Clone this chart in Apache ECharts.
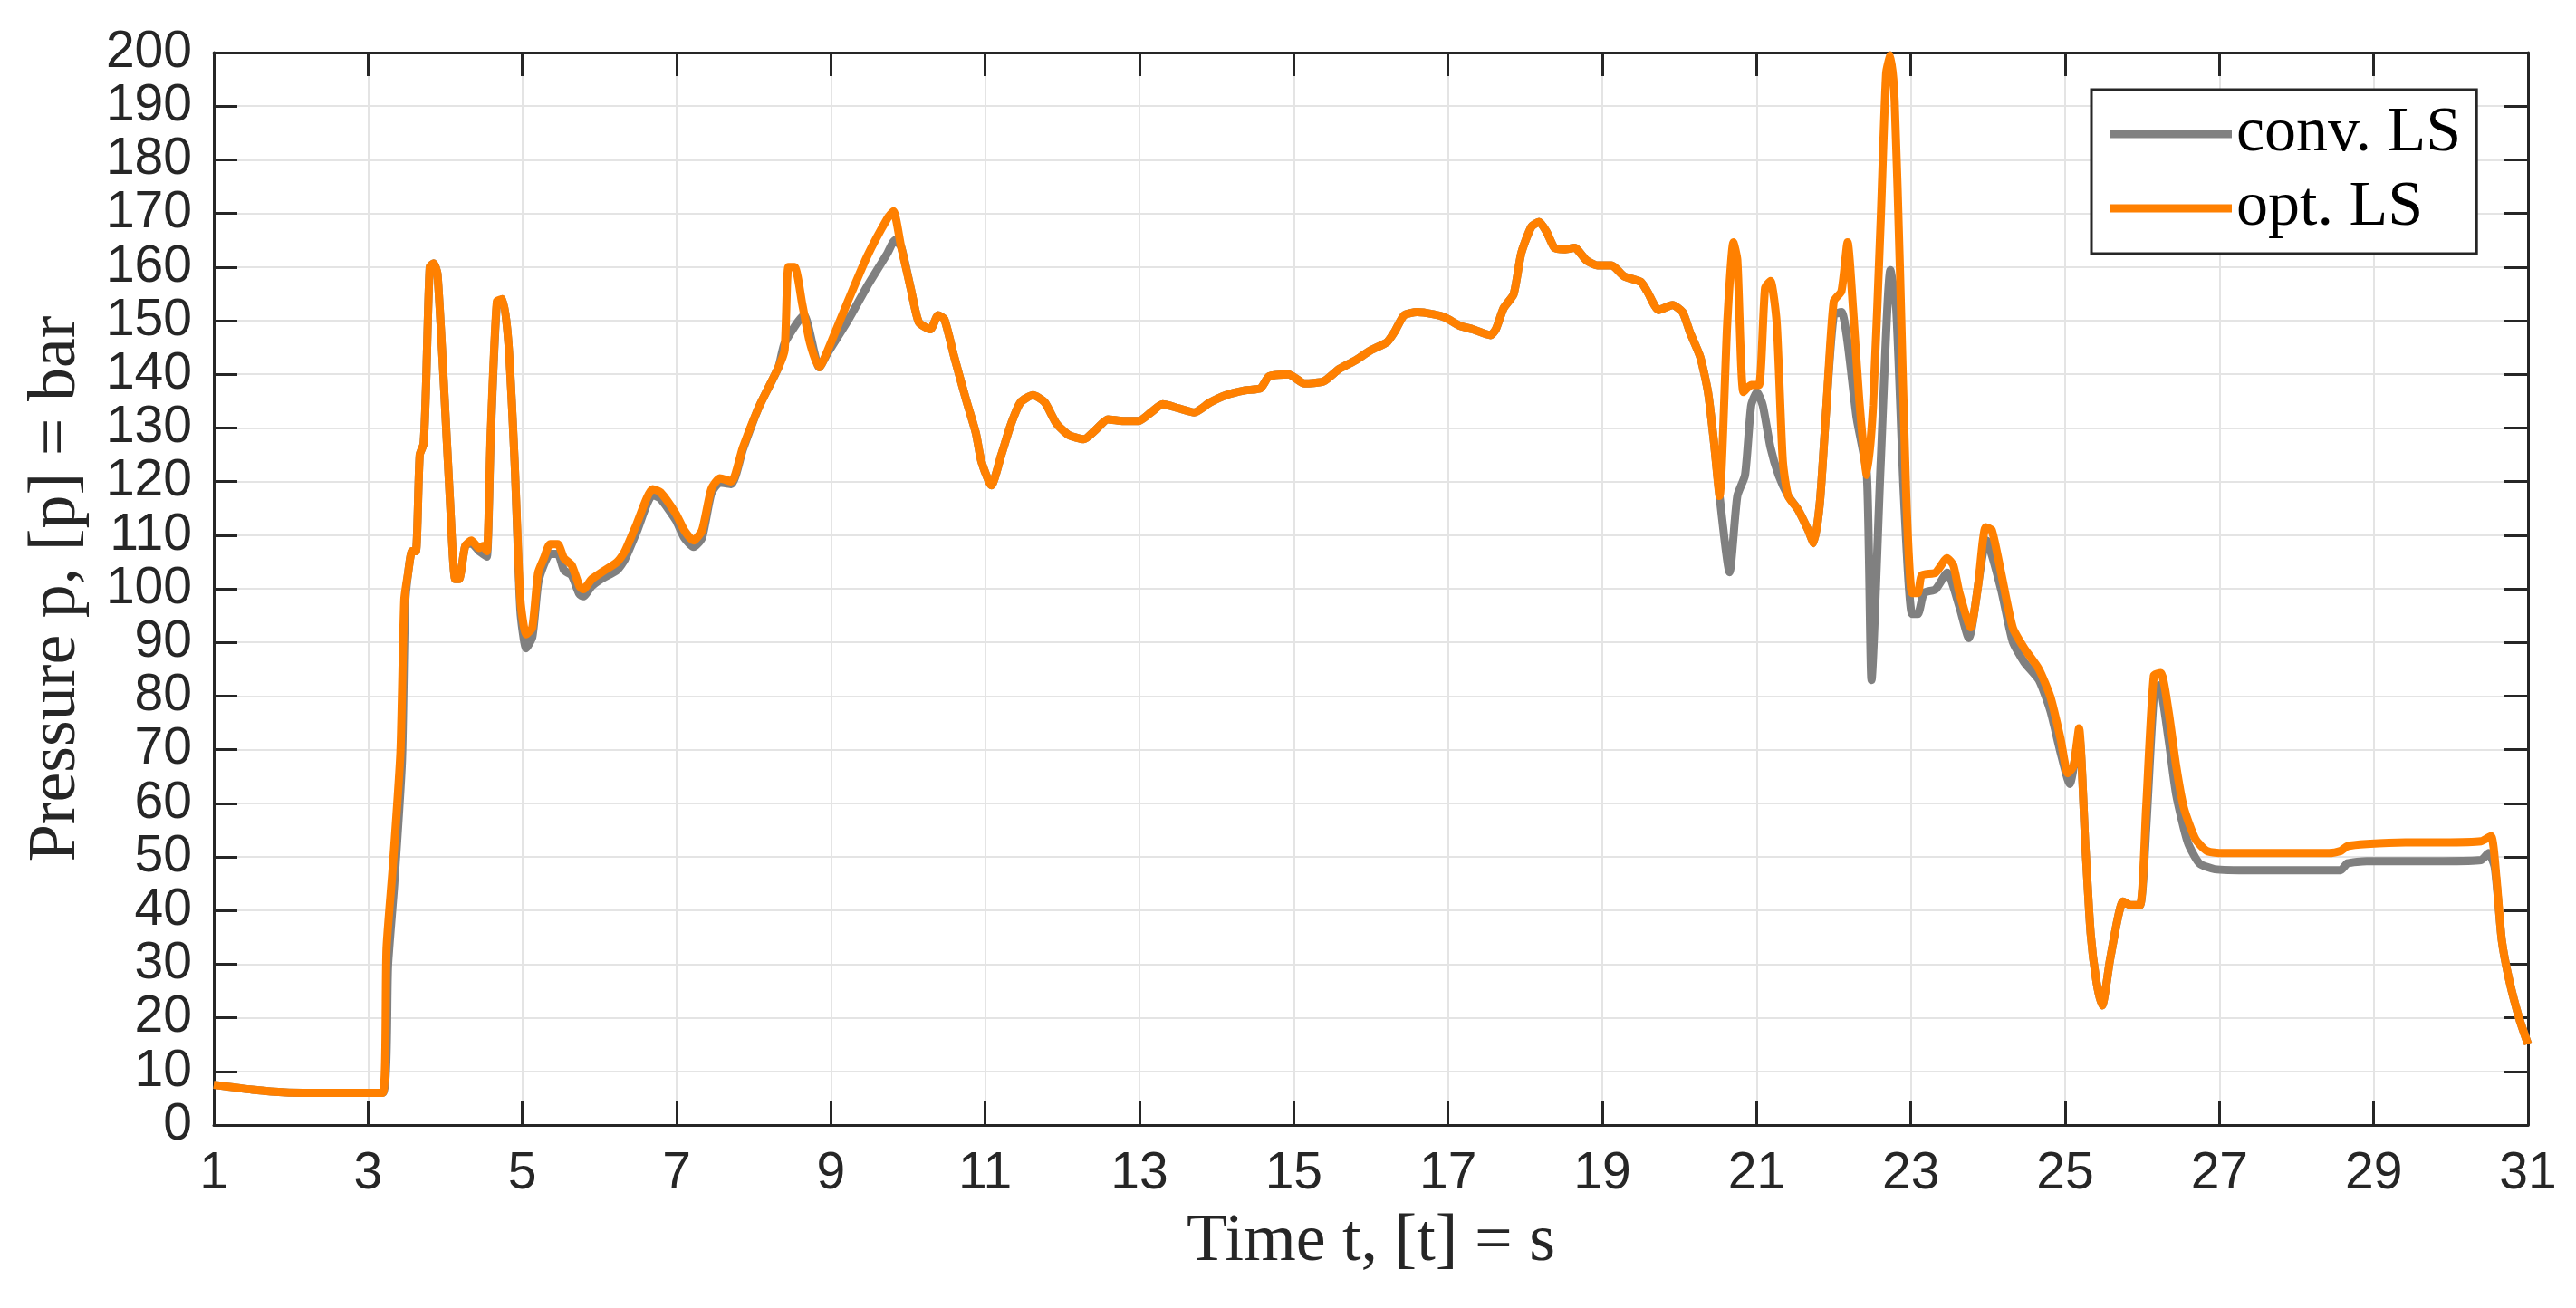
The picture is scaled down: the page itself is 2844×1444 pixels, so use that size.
<!DOCTYPE html>
<html>
<head>
<meta charset="utf-8">
<script src="https://cdn.jsdelivr.net/npm/echarts@6/dist/echarts.min.js"></script>
<style>
html,body{margin:0;padding:0;background:#fff;}
#chart{width:2844px;height:1444px;}
</style>
</head>
<body>
<div id="chart"></div>
<script>
// ---- data ----
const seriesNames = ['conv. LS', 'opt. LS'];
const xTicks = { min: 1, max: 31, step: 2 };
const yTicks = { min: 0, max: 200, step: 10 };

const timeOpt = [1.0,1.5,1.93,2.5,3.19,3.24,3.32,3.42,3.47,3.52,3.57,3.62,3.67,3.72,3.75,3.80,3.85,3.90,3.98,4.06,4.13,4.18,4.26,4.34,4.44,4.49,4.54,4.59,4.67,4.745,4.82,4.90,4.975,5.05,5.13,5.205,5.28,5.36,5.46,5.54,5.64,5.74,5.79,5.90,6.02,6.23,6.33,6.48,6.69,6.79,6.99,7.10,7.22,7.33,7.45,7.56,7.71,7.86,8.07,8.32,8.40,8.45,8.53,8.63,8.73,8.85,8.96,9.22,9.47,9.73,9.81,9.91,10.035,10.14,10.29,10.39,10.47,10.60,10.75,10.88,10.95,11.08,11.21,11.34,11.46,11.62,11.77,11.92,12.08,12.28,12.43,12.59,12.79,12.99,13.15,13.30,13.50,13.71,13.91,14.12,14.37,14.57,14.68,14.93,15.14,15.39,15.59,15.80,16.00,16.21,16.31,16.43,16.60,16.81,16.96,17.16,17.32,17.55,17.62,17.72,17.85,17.95,18.08,18.18,18.28,18.38,18.51,18.64,18.79,18.94,19.12,19.28,19.50,19.58,19.73,19.91,20.04,20.14,20.27,20.37,20.445,20.52,20.62,20.70,20.75,20.83,20.93,21.03,21.11,21.18,21.26,21.34,21.41,21.54,21.67,21.74,21.82,21.90,22.00,22.10,22.18,22.25,22.33,22.43,22.51,22.61,22.68,22.735,22.79,22.86,22.94,23.015,23.09,23.14,23.32,23.47,23.55,23.63,23.775,23.87,23.97,24.05,24.17,24.32,24.47,24.66,24.81,24.94,25.035,25.11,25.18,25.26,25.33,25.405,25.48,25.58,25.68,25.75,25.85,25.97,26.05,26.15,26.24,26.34,26.44,26.54,26.69,26.84,27.04,27.43,27.92,28.42,28.57,28.66,28.91,29.41,29.90,30.39,30.52,30.59,30.66,30.76,30.89,31.0];
const pressureOpt = [7.5,6.6,6.1,6.0,6.0,33,48,69.5,98,103,107,107,125,127,137,160,160.7,158.7,139,117,101.8,101.8,108,109,107.6,108,107,129,153.6,154,145.8,123.8,98,91.5,92.8,103,105.7,108.3,108.3,105.7,104.4,100.5,99.9,101.8,103,105,107,112,118.6,118,114,110.9,109,110.9,118.6,120.6,120,126.4,134,141.3,144.5,160,160,153,145.8,141.3,144.5,153.6,162,169,170.4,163.8,156,149.7,148.4,151,150.3,143.2,135.4,129,123.8,119.3,125,130.9,134.8,136.1,134.8,130.9,128.7,127.9,129.6,131.6,131.3,131.3,132.9,134.4,133.7,132.9,134.7,136.1,137,137.4,139.6,140,138.3,138.7,141,142.6,144.5,146,148,151,151.6,151.2,150.6,149,148.4,147.3,148.4,152.3,154.9,162.6,167.5,168.4,166.5,163.6,163.3,163.6,161.3,160.3,160.3,158.3,157.2,155.5,152,152.9,151.6,147.7,143.2,136.7,127.7,117.3,149.7,164.6,161.3,136.7,138,138,156.1,157.4,149.7,123.8,117.3,114.7,110.9,108.5,116,132.9,153.6,155.5,164.6,152.3,135.4,121.2,134.2,169.1,196.2,199.5,191,158.7,117.3,99.2,99.2,102.5,103,105.7,104.4,99.2,92.8,100.5,111.5,110.9,103,92.8,88.9,85,79.8,72.1,65.6,67,74,52.7,35.8,26.8,22.3,30.7,38.4,41.7,41,41,59.1,83.8,84.3,77.2,66.9,59.1,53.3,51.1,50.7,50.7,50.7,50.7,51.1,52,52.4,52.7,52.7,52.9,53.9,46.2,34.5,26.8,19.7,15.1];

const timeConv = [1.0,1.5,1.93,2.5,3.19,3.26,3.34,3.44,3.48,3.52,3.57,3.62,3.67,3.72,3.75,3.80,3.85,3.90,3.98,4.06,4.13,4.18,4.26,4.34,4.44,4.49,4.54,4.59,4.67,4.745,4.82,4.90,4.975,5.05,5.13,5.205,5.28,5.36,5.46,5.54,5.64,5.74,5.79,5.90,6.02,6.23,6.33,6.48,6.69,6.79,6.99,7.10,7.22,7.33,7.45,7.56,7.71,7.86,8.07,8.32,8.40,8.65,8.85,8.96,9.22,9.47,9.73,9.83,9.91,10.035,10.14,10.29,10.39,10.47,10.60,10.75,10.88,10.95,11.08,11.21,11.34,11.46,11.62,11.77,11.92,12.08,12.28,12.43,12.59,12.79,12.99,13.15,13.30,13.50,13.71,13.91,14.12,14.37,14.57,14.68,14.93,15.14,15.39,15.59,15.80,16.00,16.21,16.31,16.43,16.60,16.81,16.96,17.16,17.32,17.55,17.62,17.72,17.85,17.95,18.08,18.18,18.28,18.38,18.51,18.64,18.79,18.94,19.12,19.28,19.50,19.58,19.73,19.91,20.04,20.14,20.27,20.37,20.445,20.52,20.65,20.75,20.85,20.93,21.005,21.08,21.18,21.285,21.41,21.54,21.67,21.74,21.82,21.90,22.00,22.10,22.30,22.43,22.49,22.61,22.735,22.81,22.91,23.015,23.09,23.17,23.32,23.47,23.63,23.75,23.98,24.17,24.32,24.47,24.66,24.81,24.94,25.06,25.18,25.26,25.33,25.405,25.48,25.58,25.68,25.75,25.85,25.97,26.05,26.15,26.22,26.34,26.44,26.59,26.74,26.94,27.43,28.42,28.57,28.66,28.91,29.90,30.39,30.49,30.57,30.66,30.76,30.89,31.0];
const pressureConv = [7.5,6.6,6.1,6.0,6.0,30,45,68,97,103,107,107,125,127,137,160,160.7,158.7,139,117,101.8,101.8,108,108.5,107,106.5,106,128,153,154,145.8,123.8,96,88.9,91,101,104.5,106.5,106.5,103.5,102.5,99,98.6,100.5,101.8,103.5,105.5,110.5,117.5,116.8,112.8,109.5,107.8,109.5,117.8,119.8,119.5,126,134,141.3,145.8,151,141.3,144,150,156.4,162.5,165,163.8,156,149.7,148.4,151,150.3,143.2,135.4,129,123.8,119.3,125,130.9,134.8,136.1,134.8,130.9,128.7,127.9,129.6,131.6,131.3,131.3,132.9,134.4,133.7,132.9,134.7,136.1,137,137.4,139.6,140,138.3,138.7,141,142.6,144.5,146,148,151,151.6,151.2,150.6,149,148.4,147.3,148.4,152.3,154.9,162.6,167.5,168.4,166.5,163.6,163.3,163.6,161.3,160.3,160.3,158.3,157.2,155.5,152,152.9,151.6,147.7,143.2,136.7,127.7,117.3,103.1,117.3,121.2,134.2,136.7,134.2,126.4,121.2,117.3,114.7,110.9,108.5,116,132.9,151,151.6,131.6,121.2,83,123.8,159.4,152.3,117.3,95.3,95.3,99.2,99.9,103,96.6,90.8,109,99.9,90.2,86.3,83,77.2,69.5,63.6,72.8,52.7,35.8,26.8,22.3,30.7,38.4,41.7,41,41,55.2,80,82,72,61.6,52.7,48.8,47.7,47.5,47.5,47.5,48.8,49.2,49.2,49.4,50.7,48,34.5,26.8,19.7,15.1];

const zip = (xs, ys) => xs.map((x, i) => [x, ys[i]]);

const axisColor = '#262626';
const gridColor = '#e4e4e4';
const tickFont = 'Liberation Sans, Arial, sans-serif';
const serifFont = 'Liberation Serif, Times New Roman, serif';

const chart = echarts.init(document.getElementById('chart'), null, { renderer: 'canvas' });

const baseX = {
  type: 'value', min: xTicks.min, max: xTicks.max, interval: xTicks.step,
  axisLine: { show: true, onZero: false, lineStyle: { color: axisColor, width: 3 } },
  axisTick: { show: true, inside: true, length: 26, lineStyle: { color: axisColor, width: 3 } }
};
const baseY = {
  type: 'value', min: yTicks.min, max: yTicks.max, interval: yTicks.step,
  axisLine: { show: true, onZero: false, lineStyle: { color: axisColor, width: 3 } },
  axisTick: { show: true, inside: true, length: 26, lineStyle: { color: axisColor, width: 3 } }
};

chart.setOption({
  animation: false,
  backgroundColor: '#ffffff',
  grid: { left: 236, right: 53, top: 58, bottom: 202, containLabel: false },
  xAxis: [
    Object.assign({}, baseX, {
      position: 'bottom',
      name: 'Time t, [t] = s',
      nameLocation: 'middle',
      nameGap: 130,
      nameTextStyle: { fontFamily: serifFont, fontSize: 74, color: axisColor, verticalAlign: 'middle', align: 'center' },
      axisLabel: { show: true, fontFamily: tickFont, fontSize: 57, color: axisColor, margin: 26 },
      splitLine: { show: true, lineStyle: { color: gridColor, width: 2 } }
    }),
    Object.assign({}, baseX, {
      position: 'top',
      axisLabel: { show: false },
      splitLine: { show: false }
    })
  ],
  yAxis: [
    Object.assign({}, baseY, {
      position: 'left',
      name: 'Pressure p, [p] = bar',
      nameLocation: 'middle',
      nameGap: 173,
      nameRotate: 90,
      nameTextStyle: { fontFamily: serifFont, fontSize: 74, color: axisColor, verticalAlign: 'middle', align: 'center' },
      axisLabel: { show: true, fontFamily: tickFont, fontSize: 57, color: axisColor, margin: 24 },
      splitLine: { show: true, lineStyle: { color: gridColor, width: 2 } }
    }),
    Object.assign({}, baseY, {
      position: 'right',
      axisLabel: { show: false },
      splitLine: { show: false }
    })
  ],
  legend: {
    orient: 'vertical',
    left: 2309,
    top: 99,
    padding: [14, 17, 15, 21],
    itemGap: 12,
    itemWidth: 134,
    itemHeight: 9,
    icon: 'rect',
    backgroundColor: '#ffffff',
    borderColor: axisColor,
    borderWidth: 3,
    borderRadius: 0,
    textStyle: { fontFamily: serifFont, fontSize: 70, color: '#000000', lineHeight: 70 },
    data: seriesNames
  },
  series: [
    {
      name: seriesNames[0], type: 'line', showSymbol: false, symbol: 'none',
      smooth: 0.2,
      xAxisIndex: 0, yAxisIndex: 0,
      lineStyle: { color: '#808080', width: 9 }, itemStyle: { color: '#808080' },
      data: zip(timeConv, pressureConv), z: 2
    },
    {
      name: seriesNames[1], type: 'line', showSymbol: false, symbol: 'none',
      smooth: 0.2,
      xAxisIndex: 0, yAxisIndex: 0,
      lineStyle: { color: '#ff8000', width: 9 }, itemStyle: { color: '#ff8000' },
      data: zip(timeOpt, pressureOpt), z: 3
    }
  ]
});
</script>
</body>
</html>
